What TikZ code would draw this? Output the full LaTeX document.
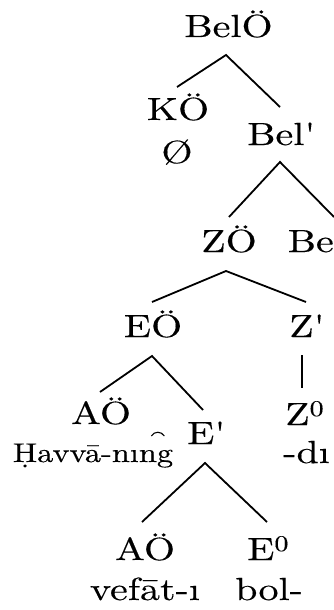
\documentclass[tikz,border=0pt]{standalone}
\usepackage{fontspec}
\usetikzlibrary{calc}
\newfontfamily\treefont{lmroman10-regular.otf}[FakeStretch=1.25,FakeBold=0.3]
\newfontfamily\treefontb{lmroman10-regular.otf}[FakeStretch=1.2,FakeBold=0.3]
\begin{document}
\begin{tikzpicture}[x=1pt,y=-1pt,
  lab/.style={inner sep=0pt,anchor=base,font=\treefont\fontsize{32}{38}\selectfont},
  labw/.style={lab,anchor=base west},
  small/.style={lab,font=\treefontb\fontsize{27}{32}\selectfont},
  br/.style={line width=1.8pt}]
\useasboundingbox (0,0) rectangle (334,610);
% labels
\node[lab] (belO) at (228.5,37) {BelÖ};
\node[lab] (kO) at (178,120) {KÖ};
\node[lab] (null) at (177,163) {Ø};
\node[labw] (belP) at (247,145) {Bel\textquotesingle};
\node[lab] (zO) at (229,252) {ZÖ};
\node[labw] (belZ) at (287.5,252) {Be};
\node[lab] (eO) at (153,337) {EÖ};
\node[labw] (zP) at (289,337) {Z\textquotesingle};
\node[lab] (aO) at (101,424) {AÖ};
\node[small] (havva) at (93,462) {Ḥavvā-nıng};
\node[labw] (eP) at (187,444) {E\textquotesingle};
\node[labw] (z0) at (285,425) {Z\textsuperscript{0}};
\node[labw] (di) at (283,463) {-dı};
\node[lab] (aO2) at (145,560) {AÖ};
\node[labw] (e0) at (247,560) {E\textsuperscript{0}};
\node[lab] (vefat) at (145,600) {vefāt-ı};
\node[labw] (bol) at (235,600) {bol-};
% branch points
\coordinate (belO-b) at (226,55);
\coordinate (kO-t) at (177,87);
\coordinate (belP-t) at (280,107);
\coordinate (belP-b) at (280,162);
\coordinate (zO-t) at (229,217);
\coordinate (belZ-t) at (334,217);
\coordinate (zO-b) at (226,271);
\coordinate (eO-t) at (152,302);
\coordinate (zP-t) at (306,302);
\coordinate (eO-b) at (152,356);
\coordinate (aO-t) at (100,392);
\coordinate (eP-t) at (203,410);
\coordinate (zP-b) at (302,355);
\coordinate (z0-t) at (302,388);
\coordinate (eP-b) at (205,463);
\coordinate (aO2-t) at (142,522);
\coordinate (e0-t) at (267,522);
% tie over ng
\coordinate (tie-l) at ($(havva.base east)+(-22,-26)$);
\coordinate (tie-r) at ($(havva.base east)+(-9,-26)$);
\draw[line width=1.1pt] (tie-l) .. controls ($(tie-l)+(3,-5)$) and ($(tie-r)+(-3,-5)$) .. (tie-r);
% branches
\draw[br] (kO-t) -- (belO-b) -- (belP-t);
\draw[br] (zO-t) -- (belP-b) -- (belZ-t);
\draw[br] (eO-t) -- (zO-b) -- (zP-t);
\draw[br] (aO-t) -- (eO-b) -- (eP-t);
\draw[br] (zP-b) -- (z0-t);
\draw[br] (aO2-t) -- (eP-b) -- (e0-t);
\end{tikzpicture}
\end{document}
